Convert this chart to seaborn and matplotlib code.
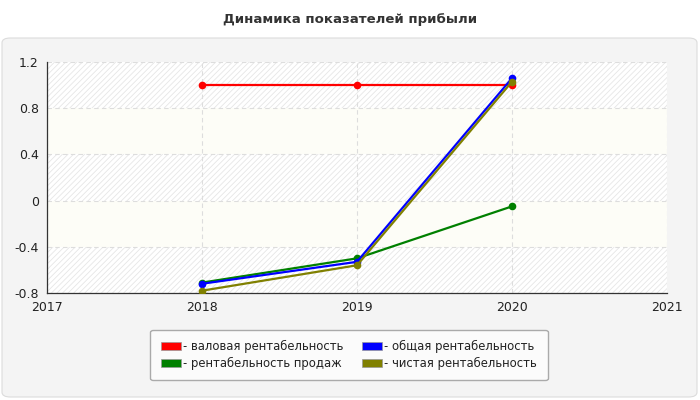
import pandas as pd
import matplotlib
matplotlib.use("Agg")
import matplotlib.pyplot as plt
from matplotlib.patches import FancyBboxPatch, Patch
import seaborn as sns

years = [2018, 2019, 2020]
series_names = ["валовая рентабельность", "рентабельность продаж",
                "общая рентабельность", "чистая рентабельность"]
valovaya = [1.0, 1.0, 1.0]
prodazh = [-0.71, -0.50, -0.05]
obshaya = [-0.72, -0.53, 1.06]
chistaya = [-0.78, -0.56, 1.03]
colors = ["#ff0000", "#008000", "#0000ff", "#808000"]

rows = []
for name, vals in zip(series_names, [valovaya, prodazh, obshaya, chistaya]):
    for y, v in zip(years, vals):
        rows.append({"year": y, "value": v, "series": name})
df = pd.DataFrame(rows)

sns.set_style("white")
plt.rcParams["font.family"] = ["DejaVu Sans"]
plt.rcParams["hatch.linewidth"] = 0.6

fig = plt.figure(figsize=(7, 4), dpi=100)
fig.patch.set_facecolor("white")

# grey panel behind the chart
panel = FancyBboxPatch((2 / 700, 3 / 400), 695 / 700, 359 / 400,
                       boxstyle="round,pad=0,rounding_size=0.012",
                       transform=fig.transFigure, facecolor="#f4f4f4",
                       edgecolor="#dcdcdc", linewidth=0.8, zorder=-10)
fig.patches.append(panel)

fig.text(0.5, 1 - 20 / 400, "Динамика показателей прибыли", ha="center",
         va="center", fontsize=9.5, fontweight="bold", color="#333333")

ax = fig.add_axes([47 / 700, 1 - 293 / 400, 620 / 700, 231 / 400])
ax.set_facecolor("white")

# alternating bands
bands = [-0.8, -0.4, 0, 0.4, 0.8, 1.2]
for i in range(len(bands) - 1):
    if i % 2 == 0:
        ax.axhspan(bands[i], bands[i + 1], facecolor="white", edgecolor="#e6e6e6",
                   hatch="//////", linewidth=0, zorder=0)
    else:
        ax.axhspan(bands[i], bands[i + 1], facecolor="#fdfdf7", linewidth=0, zorder=0)

sns.lineplot(data=df, x="year", y="value", hue="series",
             palette=dict(zip(series_names, colors)), marker="o",
             markersize=5.5, markeredgewidth=0, linewidth=1.6, ax=ax,
             legend=False, zorder=3)

ax.set_xlim(2017, 2021)
ax.set_ylim(-0.8, 1.2)
ax.set_xticks([2017, 2018, 2019, 2020, 2021])
ax.set_xticklabels(["2017", "2018", "2019", "2020", "2021"])
yticks = [-0.8, -0.4, 0, 0.4, 0.8, 1.2]
ax.set_yticks(yticks)
ax.set_yticklabels(["-0.8", "-0.4", "0", "0.4", "0.8", "1.2"])
ax.grid(True, linestyle=(0, (4, 3)), color="#dddddd", linewidth=0.8, zorder=1)
ax.set_axisbelow(True)
ax.set_xlabel("")
ax.set_ylabel("")
ax.tick_params(axis="both", direction="out", length=4, width=0.8,
               colors="#333333", labelsize=9, pad=2, labelcolor="#222222")
for s in ["top", "right"]:
    ax.spines[s].set_visible(False)
for s in ["left", "bottom"]:
    ax.spines[s].set_color("#333333")
    ax.spines[s].set_linewidth(0.9)

handles = [Patch(facecolor=c, edgecolor="#999999", linewidth=0.5) for c in colors]
labels = ["- " + n for n in series_names]
leg = fig.legend(handles, labels, ncol=2, loc="center",
                 bbox_to_anchor=(349 / 700, 1 - 355 / 400), fontsize=8.4,
                 frameon=True, fancybox=True, handlelength=1.7, handleheight=0.7,
                 handletextpad=0.2, columnspacing=1.6, labelspacing=0.3,
                 borderpad=0.9, labelcolor="#222222")
leg.get_frame().set_facecolor("#fbfbfb")
leg.get_frame().set_edgecolor("#aaaaaa")
leg.get_frame().set_alpha(1)

fig.savefig("out.png", dpi=100, facecolor=fig.get_facecolor())
